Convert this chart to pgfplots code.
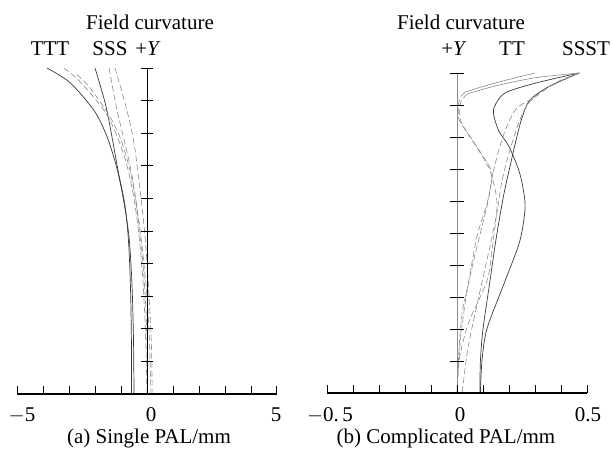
\documentclass[border=0pt]{standalone}
\usepackage{fontspec}
\setmainfont{Liberation Serif}
\usepackage{pgfplots}
\pgfplotsset{compat=1.18}
\definecolor{curvegrey}{HTML}{3A3A3A}
\definecolor{dashgrey}{HTML}{8A8A8A}
\definecolor{axgrey}{HTML}{8C8C8C}

\pgfplotsset{
  fc/.style={scale only axis, hide axis, clip=false, ymin=0, ymax=1,
    anchor=south west},
  solidc/.style={curvegrey, line width=0.7pt, smooth, tension=0.5},
  dashc/.style={dashgrey, line width=0.6pt, smooth, tension=0.5, dash pattern=on 6pt off 3pt},
}

\begin{document}
\begin{tikzpicture}[x=1pt,y=1pt,font=\fontsize{21}{24}\selectfont]
\path[use as bounding box] (0,0) rectangle (612,451);

% (a) single PAL
\begin{axis}[fc, at={(17pt,57pt)}, width=260pt, height=326pt, xmin=-5, xmax=5]
  \addplot[solidc] coordinates {(-3.85,1.0) (-2.96,0.955) (-2.04,0.87) (-1.54,0.79) (-1.15,0.69) (-0.88,0.585) (-0.69,0.48) (-0.58,0.34) (-0.52,0.17) (-0.5,0)};
  \addplot[solidc] coordinates {(-2.0,1.0) (-1.6,0.89) (-1.35,0.79) (-1.1,0.68) (-0.86,0.585) (-0.72,0.48) (-0.64,0.34) (-0.6,0.17) (-0.6,0)};
  \addplot[dashc] coordinates {(-3.2,1.0) (-2.6,0.96) (-1.65,0.87) (-1.2,0.8) (-0.8,0.71) (-0.5,0.6) (-0.3,0.48) (-0.15,0.34) (-0.05,0.17) (0,0)};
  \addplot[dashc] coordinates {(-2.7,0.98) (-2.2,0.94) (-1.5,0.86) (-1.05,0.79) (-0.7,0.7) (-0.45,0.6) (-0.25,0.48) (-0.1,0.34) (0,0.17) (0.02,0)};
  \addplot[dashc] coordinates {(-1.46,1.0) (-1.15,0.87) (-0.85,0.77) (-0.6,0.68) (-0.4,0.58) (-0.2,0.46) (0,0.3) (0.1,0.15) (0.15,0)};
  \addplot[dashc] coordinates {(-1.23,1.0) (-0.77,0.87) (-0.5,0.77) (-0.35,0.68) (-0.2,0.58) (-0.05,0.46) (0.08,0.3) (0.17,0.15) (0.2,0)};
  % axes
  \draw[black, line width=1.1pt] (axis cs:-5,0) -- (axis cs:5,0);
  \draw[black, line width=0.9pt] (axis cs:0,0) -- (axis cs:0,1);
  \pgfplotsinvokeforeach{-5,-4,...,5}{\draw[black, line width=1pt] (axis cs:#1,0) -- ++(0pt,8pt);}
  \pgfplotsinvokeforeach{0,0.1,...,1.0}{\draw[black, line width=0.9pt] (axis cs:0,#1) ++(-6pt,0pt) -- ++(12pt,0pt);}
\end{axis}

% (b) complicated PAL
\begin{axis}[fc, at={(327pt,58pt)}, width=260pt, height=320pt, xmin=-0.5, xmax=0.5]
  \addplot[solidc] coordinates {(0.47,1.0) (0.31,0.97) (0.19,0.94) (0.15,0.905) (0.14,0.875) (0.16,0.82) (0.2,0.77) (0.24,0.69) (0.26,0.61) (0.26,0.56) (0.24,0.47) (0.18,0.34) (0.115,0.2) (0.096,0.1) (0.09,0)};
  \addplot[solidc] coordinates {(0.47,1.0) (0.35,0.956) (0.28,0.915) (0.25,0.86) (0.23,0.8) (0.21,0.73) (0.18,0.62) (0.15,0.48) (0.125,0.34) (0.10,0.2) (0.09,0.1) (0.088,0)};
  \addplot[dashgrey, line width=0.6pt, smooth] coordinates {(0.30,1.0) (0.2,0.98) (0.1,0.958) (0.03,0.94)};
  \addplot[dashgrey, line width=0.6pt, smooth] coordinates {(0.47,1.0) (0.3,0.985) (0.15,0.96) (0.04,0.935)};
  \addplot[dashc] coordinates {(0.03,0.94) (0.01,0.92) (0.005,0.88) (0.01,0.85) (0.05,0.8) (0.09,0.75) (0.125,0.70) (0.135,0.675) (0.154,0.59) (0.135,0.45) (0.115,0.35) (0.045,0.22) (0.01,0.11) (0,0)};
  \addplot[dashc] coordinates {(0.04,0.935) (0.015,0.91) (0.01,0.87) (0.02,0.84) (0.06,0.79) (0.1,0.74) (0.13,0.70) (0.135,0.675) (0.115,0.59) (0.077,0.49) (0.045,0.35) (0.02,0.25) (0.008,0.14) (0,0)};
  \addplot[dashc] coordinates {(0.47,1.0) (0.38,0.97) (0.3,0.925) (0.23,0.89) (0.19,0.83) (0.165,0.77) (0.145,0.71) (0.135,0.675) (0.12,0.6) (0.09,0.5) (0.06,0.4) (0.035,0.3) (0.015,0.18) (0.005,0.08) (0,0)};
  \addplot[dashc] coordinates {(0.47,1.0) (0.4,0.975) (0.32,0.94) (0.27,0.9) (0.24,0.85) (0.215,0.79) (0.19,0.72) (0.17,0.65) (0.155,0.57) (0.13,0.47) (0.1,0.36) (0.07,0.25) (0.04,0.13) (0.02,0)};
  % axes
  \draw[black, line width=1.1pt] (axis cs:-0.5,0) -- (axis cs:0.5,0);
  \draw[axgrey, line width=0.9pt] (axis cs:0,0) -- (axis cs:0,1);
  \pgfplotsinvokeforeach{-0.5,-0.4,...,0.5}{\draw[black, line width=1pt] (axis cs:#1,0) -- ++(0pt,8pt);}
  \pgfplotsinvokeforeach{0,0.1,...,1.0}{\draw[black, line width=0.9pt] (axis cs:0,#1) ++(-7pt,0pt) -- ++(14pt,0pt);}
\end{axis}

% texts
\node at (150,429) {Field curvature};
\node at (50,402) {TTT};
\node at (110,402) {SSS};
\node at (148,402) {+\textit{Y}};
\node at (22,36) {$-$5};
\node at (151,36) {0};
\node at (276,36) {5};
\node at (149,13) {(a) Single PAL/mm};

\node at (461,429) {Field curvature};
\node at (454,402) {+\textit{Y}};
\node at (512,402) {TT};
\node at (586,402) {SSST};
\node at (330,36) {$-$0.\,5};
\node at (460,36) {0};
\node at (588,36) {0.5};
\node at (446,13) {(b) Complicated PAL/mm};
\end{tikzpicture}
\end{document}
